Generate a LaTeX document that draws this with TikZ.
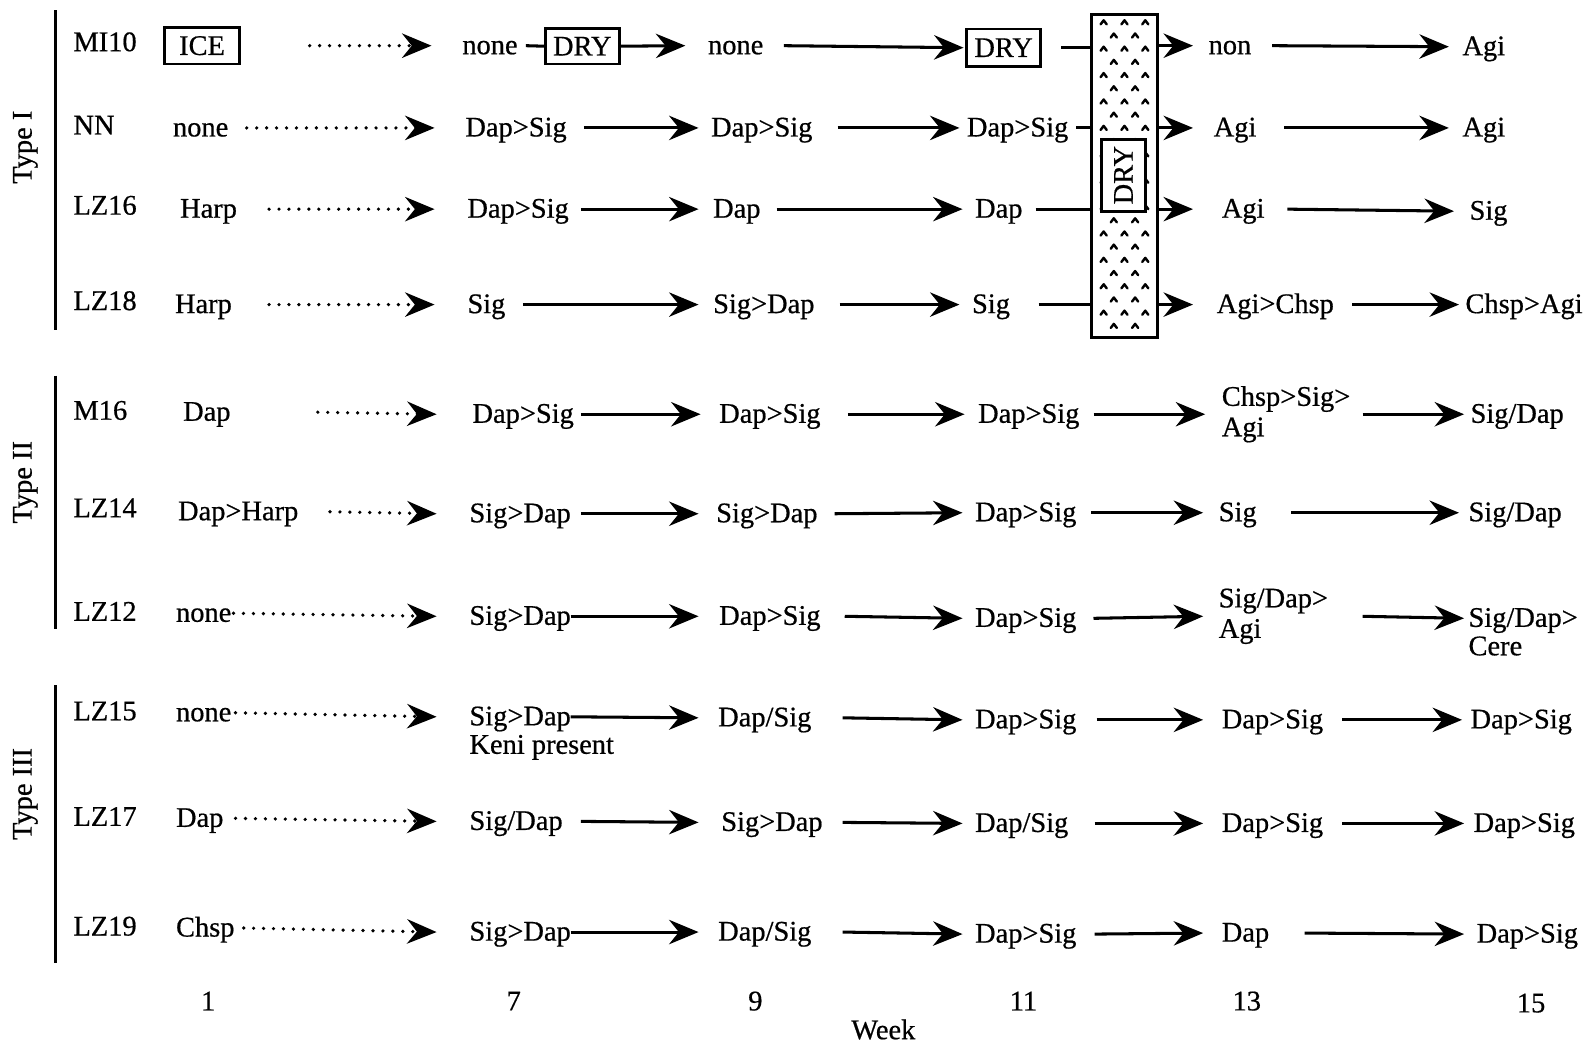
\documentclass[tikz,border=0pt]{standalone}
\usepackage{fontspec}
\setmainfont{Liberation Serif}[FakeBold=0.6]
\usetikzlibrary{arrows.meta}
\newcommand\harr[4]{\draw[arr] (#1.east -| #3,0) -- (#2.west -| #4,0);}
\newcommand\hdot[4]{\draw[dotarr] (#1.east -| #3,0) -- (#2.west -| #4,0);}
\begin{document}
\begin{tikzpicture}[x=0.5pt,y=-0.5pt,
  every node/.style={font=\fontsize{14}{15}\selectfont},
  lbl/.style={inner sep=0pt,anchor=west,text height=11pt,text depth=2.6pt},
  two/.style={inner sep=0pt,anchor=west,align=left},
  bx/.style={draw,line width=1.4pt,inner sep=0pt,minimum width=36.5pt,minimum height=17.5pt},
  arr/.style={line width=1.5pt,-{Stealth[length=14.5pt,width=12pt,inset=4.8pt]}},
  dotarr/.style={line width=1.8pt,line cap=round,dash pattern=on 0pt off 4.9pt,-{Stealth[length=14.5pt,width=12pt,inset=4.8pt]}},
  plain/.style={line width=1.5pt},
  bar/.style={line width=1.6pt},
  caret/.style={line width=1.2pt,line cap=round,line join=round},
]
\useasboundingbox (0,0) rectangle (1568,1027);

% group bars and labels
\draw[bar] (55,10) -- (55,325);
\draw[bar] (55,370) -- (55,620);
\draw[bar] (55,675) -- (55,948);
\node[rotate=90] (t1) at (25,145) {Type I};
\node[rotate=90] (t2) at (25,475) {Type II};
\node[rotate=90] (t3) at (25,782) {Type III};

% big DRY column
\node[draw,line width=1.5pt,minimum width=32.5pt,minimum height=159pt,inner sep=0pt] (col) at (1107.5,173) {};
\foreach \yy in {22,48,...,330}
  \foreach \xx in {1087,1107.5,1128}
    \draw[caret] (\xx-3,\yy+2) -- (\xx,\yy-2) -- (\xx+3,\yy+2);
\foreach \yy in {35,61,...,330}
  \foreach \xx in {1097,1118}
    \draw[caret] (\xx-3,\yy+2) -- (\xx,\yy-2) -- (\xx+3,\yy+2);
\node[draw,fill=white,line width=1.4pt,rotate=90,minimum width=35.5pt,minimum height=21.5pt,inner sep=0pt] (dryv) at (1106.5,172.5) {DRY};

% Row MI10
\node[lbl] (a0) at (72,42) {MI10};
\node[bx,minimum width=37pt,minimum height=18pt] (a1) at (199,45) {ICE};
\node[lbl] (a7) at (455,45) {none};
\node[bx] (a7d) at (573.5,45.5) {DRY};
\node[lbl] (a9) at (697,45) {none};
\node[bx,minimum height=18.5pt] (a11) at (988.5,47) {DRY};
\node[lbl] (a13) at (1190,45) {non};
\node[lbl] (a15) at (1440,46) {Agi};
\hdot{a1}{a7}{305}{425}
\draw[plain] (a7.east -| 518,0) -- (a7d.west);
\draw[arr] (a7d.east) -- (a9.west -| 675,0);
\harr{a9}{a11}{772}{949}
\draw[plain] (a11.east -| 1045,0) -- (col.west |- a11.east);
\draw[arr] (col.east |- a13.west) -- (a13.west -| 1175,0);
\harr{a13}{a15}{1253}{1427}

% Row NN
\node[lbl] (b0) at (72,124) {NN};
\node[lbl] (b1) at (170,126) {none};
\node[lbl] (b7) at (458,126) {Dap>Sig};
\node[lbl] (b9) at (700,126) {Dap>Sig};
\node[lbl] (b11) at (952,126) {Dap>Sig};
\node[lbl] (b13) at (1195,126) {Agi};
\node[lbl] (b15) at (1440,126) {Agi};
\hdot{b1}{b7}{243}{428}
\harr{b7}{b9}{575}{688}
\harr{b9}{b11}{825}{945}
\draw[plain] (b11.east -| 1060,0) -- (col.west |- b11.east);
\draw[arr] (col.east |- b13.west) -- (b13.west -| 1175,0);
\harr{b13}{b15}{1265}{1427}

% Row LZ16
\node[lbl] (c0) at (72,203) {LZ16};
\node[lbl] (c1) at (177,206) {Harp};
\node[lbl] (c7) at (460,206) {Dap>Sig};
\node[lbl] (c9) at (702,206) {Dap};
\node[lbl] (c11) at (960,206) {Dap};
\node[lbl] (c13) at (1203,206) {Agi};
\node[lbl] (c15) at (1447,208) {Sig};
\hdot{c1}{c7}{265}{428}
\harr{c7}{c9}{572}{688}
\harr{c9}{c11}{765}{948}
\draw[plain] (c11.east -| 1020,0) -- (col.west |- c11.east);
\draw[arr] (col.east |- c13.west) -- (c13.west -| 1175,0);
\harr{c13}{c15}{1268}{1432}

% Row LZ18
\node[lbl] (d0) at (72,297) {LZ18};
\node[lbl] (d1) at (172,300) {Harp};
\node[lbl] (d7) at (460,300) {Sig};
\node[lbl] (d9) at (702,300) {Sig>Dap};
\node[lbl] (d11) at (957,300) {Sig};
\node[lbl] (d13) at (1198,300) {Agi>Chsp};
\node[lbl] (d15) at (1443,300) {Chsp>Agi};
\hdot{d1}{d7}{265}{428}
\harr{d7}{d9}{515}{688}
\harr{d9}{d11}{827}{945}
\draw[plain] (d11.east -| 1023,0) -- (col.west |- d11.east);
\draw[arr] (col.east |- d13.west) -- (d13.west -| 1175,0);
\harr{d13}{d15}{1332}{1437}

% Row M16
\node[lbl] (e0) at (72,405) {M16};
\node[lbl] (e1) at (180,406) {Dap};
\node[lbl] (e7) at (465,408) {Dap>Sig};
\node[lbl] (e9) at (708,408) {Dap>Sig};
\node[lbl] (e11) at (963,408) {Dap>Sig};
\node[two] (e13) at (1203,408) {Chsp>Sig>\\Agi};
\node[lbl] (e15) at (1448,408) {Sig/Dap};
\hdot{e1}{e7}{313}{430}
\harr{e7}{e9}{572}{690}
\harr{e9}{e11}{835}{950}
\harr{e11}{e13}{1077}{1187}
\harr{e13}{e15}{1342}{1442}

% Row LZ14
\node[lbl] (f0) at (72,501) {LZ14};
\node[lbl] (f1) at (175,504) {Dap>Harp};
\node[lbl] (f7) at (462,506) {Sig>Dap};
\node[lbl] (f9) at (705,506) {Sig>Dap};
\node[lbl] (f11) at (960,505) {Dap>Sig};
\node[lbl] (f13) at (1200,505) {Sig};
\node[lbl] (f15) at (1446,505) {Sig/Dap};
\hdot{f1}{f7}{325}{430}
\harr{f7}{f9}{572}{688}
\harr{f9}{f11}{822}{948}
\harr{f11}{f13}{1075}{1185}
\harr{f13}{f15}{1272}{1437}

% Row LZ12
\node[lbl] (g0) at (72,603) {LZ12};
\node[lbl] (g1) at (173,604) {none};
\node[lbl] (g7) at (462,607) {Sig>Dap};
\node[lbl] (g9) at (708,607) {Dap>Sig};
\node[lbl] (g11) at (960,609) {Dap>Sig};
\node[two] (g13) at (1200,607) {Sig/Dap>\\Agi};
\node[lbl] (g15) at (1446,609) {Sig/Dap>};
\node[lbl,anchor=north west] (g15b) at (g15.south west) {Cere};
\hdot{g1}{g7}{230}{430}
\harr{g7}{g9}{562}{688}
\harr{g9}{g11}{832}{948}
\harr{g11}{g13}{1077}{1185}
\harr{g13}{g15}{1342}{1442}

% Row LZ15
\node[lbl] (h0) at (72,701) {LZ15};
\node[lbl] (h1) at (173,702) {none};
\node[lbl] (h7) at (462,706) {Sig>Dap};
\node[lbl,anchor=north west] (h7b) at (h7.south west) {Keni present};
\node[lbl] (h9) at (707,707) {Dap/Sig};
\node[lbl] (h11) at (960,709) {Dap>Sig};
\node[lbl] (h13) at (1203,709) {Dap>Sig};
\node[lbl] (h15) at (1448,709) {Dap>Sig};
\hdot{h1}{h7}{232}{430}
\harr{h7}{h9}{562}{688}
\harr{h9}{h11}{830}{948}
\harr{h11}{h13}{1080}{1185}
\harr{h13}{h15}{1322}{1440}

% Row LZ17
\node[lbl] (i0) at (72,805) {LZ17};
\node[lbl] (i1) at (173,806) {Dap};
\node[lbl] (i7) at (462,809) {Sig/Dap};
\node[lbl] (i9) at (710,810) {Sig>Dap};
\node[lbl] (i11) at (960,811) {Dap/Sig};
\node[lbl] (i13) at (1203,811) {Dap>Sig};
\node[lbl] (i15) at (1451,811) {Dap>Sig};
\hdot{i1}{i7}{232}{430}
\harr{i7}{i9}{572}{688}
\harr{i9}{i11}{830}{948}
\harr{i11}{i13}{1078}{1185}
\harr{i13}{i15}{1322}{1442}

% Row LZ19
\node[lbl] (j0) at (72,913) {LZ19};
\node[lbl] (j1) at (173,914) {Chsp};
\node[lbl] (j7) at (462,918) {Sig>Dap};
\node[lbl] (j9) at (707,918) {Dap/Sig};
\node[lbl] (j11) at (960,920) {Dap>Sig};
\node[lbl] (j13) at (1203,919) {Dap};
\node[lbl] (j15) at (1454,920) {Dap>Sig};
\hdot{j1}{j7}{240}{430}
\harr{j7}{j9}{562}{688}
\harr{j9}{j11}{830}{948}
\harr{j11}{j13}{1078}{1185}
\harr{j13}{j15}{1285}{1442}

% week axis
\node (w1) at (205,986) {1};
\node (w7) at (506,986) {7};
\node (w9) at (744,986) {9};
\node (w11) at (1008,986) {11};
\node (w13) at (1228,986) {13};
\node (w15) at (1508,988) {15};
\node (wk) at (870,1014) {Week};
\end{tikzpicture}
\end{document}
